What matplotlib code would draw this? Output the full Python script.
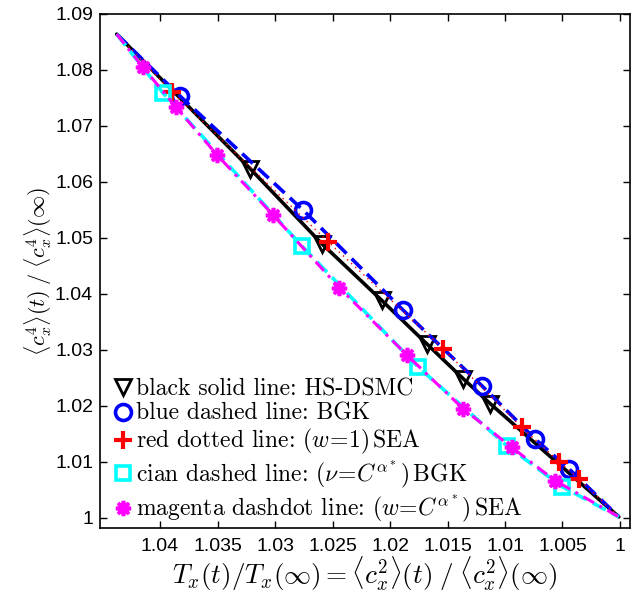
import matplotlib
matplotlib.use("Agg")
import matplotlib.pyplot as plt
from matplotlib.lines import Line2D

plt.rcParams['mathtext.fontset'] = 'cm'

# ---- data ----
start_pt = (1.04377, 1.0864)
end_pt = (1.0001, 1.0002)

dsmc_x = [1.03217, 1.02594, 1.02072, 1.01681, 1.01365, 1.0113]
dsmc_y = [1.0624, 1.0490, 1.03886, 1.03111, 1.0249, 1.02044]

bgk_x = [1.03826, 1.02754, 1.01884, 1.01203, 1.00739, 1.00443]
bgk_y = [1.07534, 1.05495, 1.03707, 1.02365, 1.01412, 1.00876]

sea1_x = [1.03898, 1.02536, 1.01536, 1.00855, 1.00530, 1.00357]
sea1_y = [1.07611, 1.04928, 1.03022, 1.0162, 1.01006, 1.0070]

bgkc_x = [1.03971, 1.02768, 1.01754, 1.00985, 1.00504]
bgkc_y = [1.07582, 1.0486, 1.02693, 1.01293, 1.00559]

seac_x = [1.04152, 1.03859, 1.03502, 1.03015, 1.02441, 1.0185, 1.01363, 1.00942, 1.00565]
seac_y = [1.08058, 1.07332, 1.06479, 1.05406, 1.04113, 1.02902, 1.01949, 1.01262, 1.00667]

xticks = [1.04, 1.035, 1.03, 1.025, 1.02, 1.015, 1.01, 1.005, 1.0]
xticklabels = ["1.04", "1.035", "1.03", "1.025", "1.02", "1.015", "1.01", "1.005", "1"]
yticks = [1.0, 1.01, 1.02, 1.03, 1.04, 1.05, 1.06, 1.07, 1.08, 1.09]
yticklabels = ["1", "1.01", "1.02", "1.03", "1.04", "1.05", "1.06", "1.07", "1.08", "1.09"]

labels = [
    "black solid line: HS-DSMC",
    "blue dashed line: BGK",
    r"red dotted line: $(w\!=\!1)\,$SEA",
    r"cian dashed line: $(\nu\!=\!C^{\alpha^*})\,$BGK",
    r"magenta dashdot line: $(w\!=\!C^{\alpha^*})\,$SEA",
]

fig = plt.figure(figsize=(6.37, 5.92), dpi=100)
ax = fig.add_axes([100/637, 1-528/592, 530/637, 514/592])

def full(xs, ys):
    return [start_pt[0]] + xs + [end_pt[0]], [start_pt[1]] + ys + [end_pt[1]]

series = [
    (dsmc_x, dsmc_y, dict(color='k', ls='-', lw=2.6),
     dict(marker='v', ms=12, mfc='none', mec='k', mew=2)),
    (bgk_x, bgk_y, dict(color=(0, 0, 1), ls=(0, (4, 2)), lw=2.6),
     dict(marker='o', ms=11.5, mfc='none', mec=(0, 0, 1), mew=2.6)),
    (sea1_x, sea1_y, dict(color=(1, 0, 0), ls=(0, (1, 3)), lw=1.0),
     dict(marker='+', ms=13, mec=(1, 0, 0), mew=3)),
    (bgkc_x, bgkc_y, dict(color=(0, 1, 1), ls=(0, (4, 2)), lw=2.6),
     dict(marker='s', ms=10, mfc='none', mec=(0, 1, 1), mew=2.6)),
    (seac_x, seac_y, dict(color=(1, 0, 1), ls=(0, (4, 2, 1, 2)), lw=2.2),
     dict(marker=(8, 2, 0), ms=11, mec=(1, 0, 1), mew=2.6)),
]

handles = []
for xs, ys, lstyle, mstyle in series:
    fx, fy = full(xs, ys)
    ax.plot(fx, fy, **lstyle, solid_capstyle='round')
    ax.plot(xs, ys, ls='none', **mstyle)
    handles.append(Line2D([], [], ls='none', **mstyle))

ax.set_xlim(1.04522, 0.99913)
ax.set_ylim(0.99821, 1.09)
ax.set_xticks(xticks)
ax.set_xticklabels(xticklabels)
ax.set_yticks(yticks)
ax.set_yticklabels(yticklabels)
ax.tick_params(direction='in', top=True, right=True, length=5, width=1,
               labelsize=14, colors='k')
ax.tick_params(axis='x', pad=7)
ax.tick_params(axis='y', pad=5)
for lab in ax.get_xticklabels() + ax.get_yticklabels():
    lab.set_fontfamily('Liberation Sans')
for s in ax.spines.values():
    s.set_linewidth(1.2)

ax.set_xlabel(r"$T_x(t)/T_x(\infty) = \langle c_x^2\rangle(t)\;/\;\langle c_x^2\rangle(\infty)$",
              fontsize=19.5, labelpad=0)
ax.set_ylabel(r"$\langle c_x^4\rangle(t)\;/\;\langle c_x^4\rangle(\infty)$",
              fontsize=16, labelpad=1)

leg = ax.legend(handles, labels, loc='lower left', bbox_to_anchor=(0.0, -0.02),
                frameon=False, prop={'family': 'cmr10', 'size': 17},
                handlelength=0.85, handletextpad=0.12, labelspacing=0.1,
                borderaxespad=0.0, borderpad=0.55, numpoints=1)

fig.savefig("out.png", dpi=100)
